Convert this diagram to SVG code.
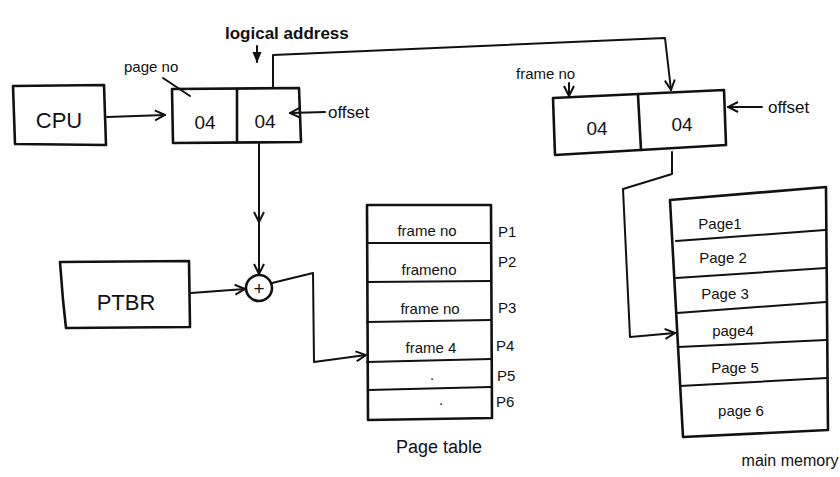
<svg xmlns="http://www.w3.org/2000/svg" width="840" height="477" viewBox="0 0 840 477">
<defs>
<marker id="ah" viewBox="0 0 12 12" refX="11" refY="6" markerWidth="12" markerHeight="12" markerUnits="userSpaceOnUse" orient="auto">
<path d="M1,1 L11,6 L1,11" fill="none" stroke="#111" stroke-width="2"/>
</marker>
<marker id="ahf" viewBox="0 0 12 12" refX="11" refY="6" markerWidth="11" markerHeight="11" markerUnits="userSpaceOnUse" orient="auto">
<path d="M0,1 L12,6 L0,11 Z" fill="#111"/>
</marker>
</defs>
<style>
.b{fill:none;stroke:#111;stroke-width:2.6;stroke-linejoin:round;stroke-linecap:round}
.l{fill:none;stroke:#111;stroke-width:2;stroke-linecap:round;stroke-linejoin:round}
.t{font-family:"Liberation Sans","DejaVu Sans",sans-serif;fill:#111}
.s{font-size:15px}
.m{font-size:19px}
.c{text-anchor:middle}
</style>
<rect width="840" height="477" fill="#fff"/>

<g id="cpu">
<path class="b" d="M13,86 L104,85 L106,145 L15,144 Z"/>
<text class="t c" style="font-size:22px" x="59" y="128">CPU</text>
</g>

<g id="logical-address">
<path class="b" d="M172,89 L299,88 L301,142 L173,143 Z"/>
<path class="b" d="M237,89 L237,142"/>
<text class="t m c" x="205" y="129">04</text>
<text class="t m c" x="265" y="128">04</text>
<text class="t" style="font-size:17px" x="225" y="39" font-weight="bold">logical address</text>
<text class="t" style="font-size:15px" x="124" y="72">page no</text>
<text class="t" style="font-size:17px" x="328" y="118">offset</text>
</g>

<g id="adder">
<circle class="b" cx="259" cy="288" r="13"/>
<text class="t m c" x="259" y="295">+</text>
</g>

<g id="ptbr">
<path class="b" d="M60,262 L189,261 L190,327 L66,328 L63,300 Z"/>
<text class="t c" style="font-size:22px" x="126" y="310">PTBR</text>
</g>

<g id="page-table">
<path class="b" d="M367,205 L491,205 L492,418 L368,420 Z"/>
<path class="l" d="M367,243 L491,243 M367,282 L491,281 M367,322 L491,320 M367,362 L491,359 M368,390 L491,387"/>
<text class="t s c" x="427" y="236">frame no</text>
<text class="t s c" x="429" y="275">frameno</text>
<text class="t s c" x="430" y="314">frame no</text>
<text class="t s c" x="431" y="353">frame 4</text>
<text class="t s c" x="432" y="380">.</text>
<text class="t s c" x="441" y="405">.</text>
<text class="t s" x="498" y="237">P1</text>
<text class="t s" x="498" y="267">P2</text>
<text class="t s" x="498" y="313">P3</text>
<text class="t s" x="496" y="351">P4</text>
<text class="t s" x="497" y="381">P5</text>
<text class="t s" x="496" y="407">P6</text>
<text class="t c" style="font-size:18px" x="439" y="453">Page table</text>
</g>

<g id="physical-address">
<path class="b" d="M553,98 L724,90 L726,145 L555,155 Z"/>
<path class="b" d="M638,95 L641,150"/>
<text class="t m c" x="597" y="135">04</text>
<text class="t m c" x="682" y="131">04</text>
<text class="t s" x="516" y="79">frame no</text>
<text class="t" style="font-size:17px" x="768" y="113">offset</text>
</g>

<g id="main-memory">
<path class="b" d="M670,200 L826,187 L828,430 L683,437 Z"/>
<path class="l" d="M676,241 L825,230 M676,278 L826,268 M677,313 L826,302 M678,347 L826,340 M680,386 L827,378"/>
<text class="t s c" x="720" y="229">Page1</text>
<text class="t s c" x="723" y="263">Page 2</text>
<text class="t s c" x="725" y="299">Page 3</text>
<text class="t s c" x="733" y="336">page4</text>
<text class="t s c" x="735" y="373">Page 5</text>
<text class="t s c" x="741" y="416">page 6</text>
<text class="t c" style="font-size:16px" x="790" y="466">main memory</text>
</g>

<g id="connectors">
<path class="l" d="M107,117 L165,115" marker-end="url(#ah)"/>
<path class="l" d="M257,46 L257,62" marker-end="url(#ahf)"/>
<path class="l" d="M163,78 L190,96"/>
<path class="l" d="M325,112 L290,113" marker-end="url(#ah)"/>
<path class="l" d="M273,88 L273,55 L665,38 L671,90" marker-end="url(#ah)"/>
<path class="l" d="M259,143 L259,222" marker-end="url(#ah)"/>
<path class="l" d="M259,222 L259,274" marker-end="url(#ah)"/>
<path class="l" d="M191,293 L245,289" marker-end="url(#ah)"/>
<path class="l" d="M272,283 L313,273 L314,362 L366,355" marker-end="url(#ah)"/>
<path class="l" d="M569,83 L569,96" marker-end="url(#ah)"/>
<path class="l" d="M762,107 L728,107" marker-end="url(#ah)"/>
<path class="l" d="M672,152 L672,174 L623,189 L630,337 L675,333" marker-end="url(#ah)"/>
</g>
</svg>
